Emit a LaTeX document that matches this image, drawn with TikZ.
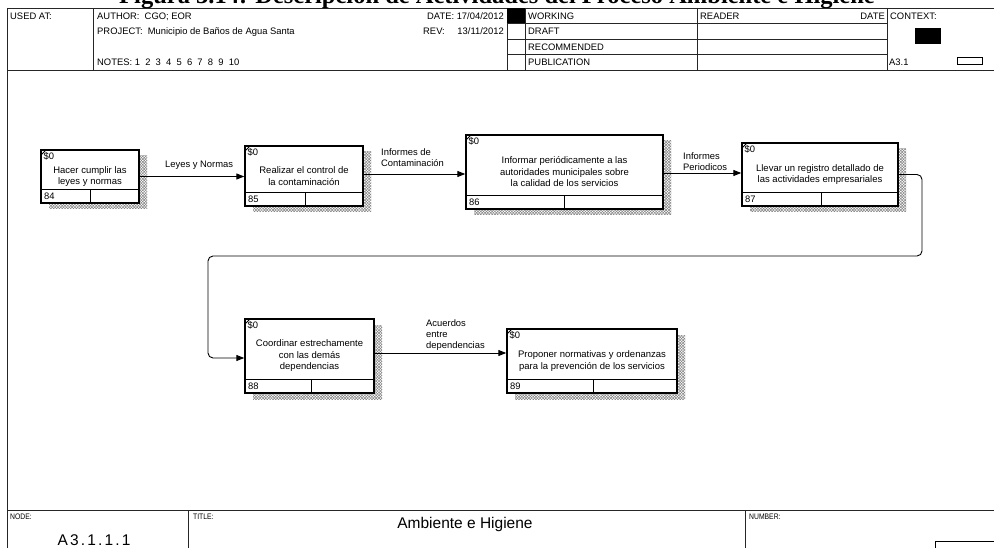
\documentclass[tikz,border=0pt]{standalone}
\usepackage{fontspec}
\setmainfont{Liberation Sans}
\newfontfamily\captionserif{Liberation Serif}
\newfontfamily\widesans[LetterSpace=14]{Liberation Sans}
\usetikzlibrary{arrows.meta,patterns.meta}

% IDEF0 activity box: name, left, top, right, bottom, divider y, divider x, number, text
\newcommand\actbox[9]{%
  \fill[hatchA] (#2+8,#3+6) rectangle (#4+8,#5+6);
  \fill[hatchB] (#2+8,#3+6) rectangle (#4+8,#5+6);
  \node[boxnode, minimum width={(#4-#2)*1pt}, minimum height={(#5-#3)*1pt}]
    (#1) at ({(#2+#4)/2},{(#3+#5)/2}) {#9};
  \draw[divline] (#2,#6) -- (#4,#6) (#7,#6) -- (#7,#5);
  \draw[divline] (#2,#3+5) -- (#2+5,#3);
  \node[txt, anchor=base west] (#1-cost) at (#2+2.5,#3+9.5) {\$0};
  \node[txt, anchor=base west] (#1-num) at (#2+3,#5-3.5) {#8};
}

\begin{document}
\begin{tikzpicture}[x=1pt,y=-1pt,
  txt/.style={font=\fontsize{9.4}{11.2}\selectfont, inner sep=0pt, align=left},
  frame/.style={line width=0.9pt, draw=black!85},
  boxnode/.style={draw, line width=1.4pt, fill=white, inner sep=0pt,
    font=\fontsize{9.5}{11.5}\selectfont, align=center},
  divline/.style={line width=1pt},
  hatchA/.style={pattern={Lines[angle=45,distance=2pt,line width=0.5pt]}, pattern color=black!50},
  hatchB/.style={pattern={Lines[angle=-45,distance=2pt,line width=0.5pt]}, pattern color=black!50},
  flow/.style={line width=0.9pt, rounded corners=5pt, -{Triangle[length=8pt,width=6pt]}},
  footlbl/.style={anchor=base west, inner sep=0pt, font=\fontsize{8}{9}\selectfont},
]
\useasboundingbox (0,0) rectangle (994,548);
\clip (0,0) rectangle (994,548);
\fill[white] (0,0) rectangle (994,548);

% caption above the form (cut by the page edge)
\node[font=\captionserif\bfseries\fontsize{24.5}{26}\selectfont, anchor=base, inner sep=0pt]
  (caption) at (497,3.5) {Figura 3.14: Descripción de Actividades del Proceso Ambiente e Higiene};

% ---------- header of the form ----------
\draw[frame] (7,8) -- (1000,8) (7,70) -- (1000,70);
\draw[frame] (7,8) -- (7,560);
\draw[frame] (93,8) -- (93,70) (507,8) -- (507,70) (525,8) -- (525,70)
  (697,8) -- (697,70) (887,8) -- (887,70);
\draw[frame] (507,23.5) -- (887,23.5) (507,39) -- (887,39) (507,54.5) -- (887,54.5);
\fill (507,8) rectangle (525,23.5);
\fill (915,28) rectangle (941,44);
\draw[line width=0.9pt] (957,57) rectangle (982,64);

\node[txt, anchor=base west] (usedat) at (10,19.5) {USED AT:};
\node[txt, anchor=base west] (author) at (97,19.5) {AUTHOR:\ \ CGO; EOR};
\node[txt, anchor=base west] (project) at (97,35) {PROJECT:\ \ Municipio de Baños de Agua Santa};
\node[txt, anchor=base west] (notes) at (97,66) {NOTES:\ 1\ \ 2\ \ 3\ \ 4\ \ 5\ \ 6\ \ 7\ \ 8\ \ 9\ \ 10};
\node[txt, anchor=base east] (date) at (504,19.5) {DATE: 17/04/2012};
\node[txt, anchor=base west] (rev) at (423,35) {REV:};
\node[txt, anchor=base east] (revdate) at (504,35) {13/11/2012};
\node[txt, anchor=base west] (working) at (528,19.5) {WORKING};
\node[txt, anchor=base west] (draft) at (528,35) {DRAFT};
\node[txt, anchor=base west] (recommended) at (528,50.5) {RECOMMENDED};
\node[txt, anchor=base west] (publication) at (528,66) {PUBLICATION};
\node[txt, anchor=base west] (reader) at (700,19.5) {READER};
\node[txt, anchor=base east] (readerdate) at (885,19.5) {DATE};
\node[txt, anchor=base west] (context) at (890,19.5) {CONTEXT:};
\node[txt, anchor=base west] (ctxnode) at (889,66) {A3.1};

% ---------- activities ----------
\actbox{a84}{41}{150}{139}{203}{190}{90}{84}{Hacer cumplir las\\leyes y normas}
\actbox{a85}{245}{146}{363}{206}{193}{305}{85}{Realizar el control de\\la contaminación}
\actbox{a86}{466}{135}{663}{209}{196}{564}{86}{Informar periódicamente a las\\autoridades municipales sobre\\la calidad de los servicios}
\actbox{a87}{742}{143}{898}{206}{193}{821}{87}{Llevar un registro detallado de\\las actividades empresariales}
\actbox{a88}{245}{319}{374}{393}{379}{311}{88}{Coordinar estrechamente\\con las demás\\dependencias}
\actbox{a89}{507}{329}{677}{393}{379}{593}{89}{Proponer normativas y ordenanzas\\para la prevención de los servicios}

% ---------- flows ----------
\coordinate (t1) at (922,256);
\coordinate (t2) at (208,256);
\draw[flow] (a84.east) -- (a85.west |- a84.east);
\draw[flow] ([yshift=2pt]a85.east) coordinate (s1) -- (s1 -| a86.west);
\draw[flow] ([yshift=-1pt]a86.east) coordinate (s2) -- (s2 -| a87.west);
\draw[flow] (a87.east) -| (t1) -- (t2) |- ([yshift=-2pt]a88.west);
\draw[flow] ([yshift=3pt]a88.east) coordinate (s3) -- (s3 -| a89.west);

\node[txt, anchor=west] (l1) at (165,165) {Leyes y Normas};
\node[txt, anchor=west] (l2) at (381,157.5) {Informes de\\Contaminación};
\node[txt, anchor=west] (l3) at (683,162) {Informes\\Periodicos};
\node[txt, anchor=west] (l4) at (426,335) {Acuerdos\\entre\\dependencias};

% ---------- footer of the form ----------
\draw[frame] (7,510) -- (1000,510);
\draw[frame] (188,510) -- (188,560) (745,510) -- (745,560);
\draw[line width=0.9pt] (935,541) rectangle (1000,560);
\node[footlbl] (nodelbl) at (10,519.5) {\scalebox{0.85}[1]{NODE:}};
\node[footlbl] (titlelbl) at (193,519.5) {\scalebox{0.85}[1]{TITLE:}};
\node[footlbl] (numberlbl) at (749,519.5) {\scalebox{0.85}[1]{NUMBER:}};
\node[anchor=base, inner sep=0pt, font=\fontsize{15.5}{17}\selectfont] (titletxt) at (465,528) {Ambiente e Higiene};
\node[anchor=base, inner sep=0pt, font=\widesans\fontsize{15.5}{17}\selectfont] (nodetxt) at (94,545.5) {A3.1.1.1};
\end{tikzpicture}
\end{document}
